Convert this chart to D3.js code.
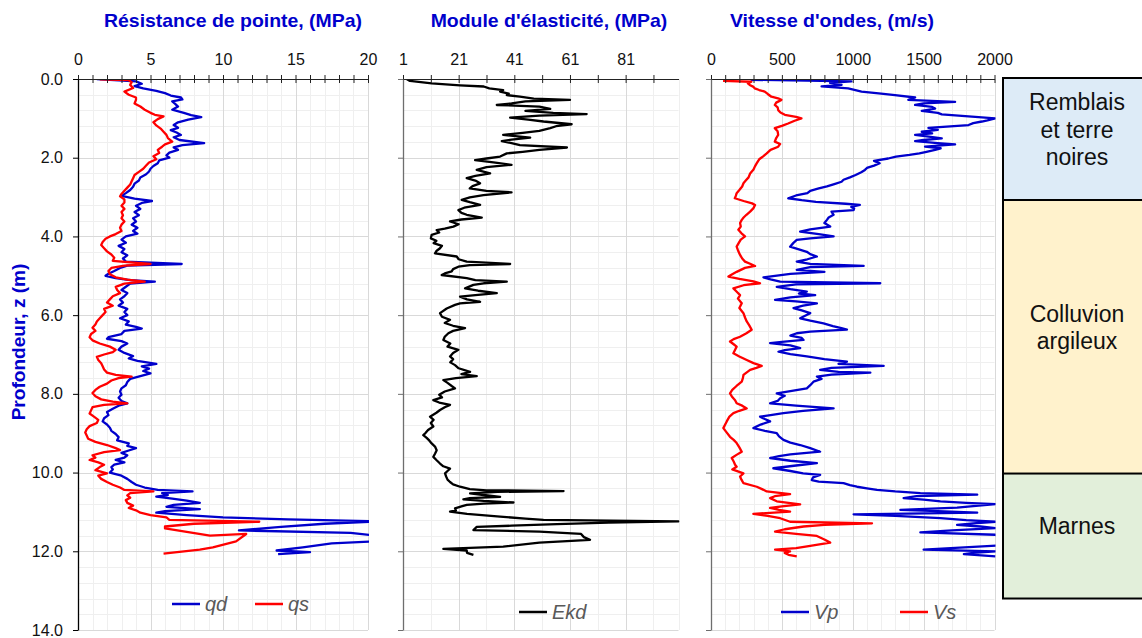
<!DOCTYPE html>
<html>
<head>
<meta charset="utf-8">
<script src="https://cdn.jsdelivr.net/npm/d3@7"></script>
<style>
  body { margin: 0; background: #fff; }
  text { font-family: "Liberation Sans", Arial, sans-serif; }
</style>
</head>
<body>
<svg id="chart" width="1142" height="638"></svg>
<script>
// profondeur (m), valeur
const qd = [[0.00,1.3],[0.03,2.5],[0.06,4.0],[0.12,4.4],[0.18,3.9],[0.24,4.5],[0.30,5.4],[0.36,6.0],[0.42,6.4],[0.47,7.1],[0.52,7.2],[0.57,6.5],[0.63,6.7],[0.70,6.9],[0.78,6.5],[0.86,7.3],[0.92,7.8],[0.97,8.5],[1.03,7.6],[1.10,6.9],[1.17,6.6],[1.24,6.9],[1.30,6.4],[1.36,6.8],[1.42,7.1],[1.48,6.6],[1.55,7.0],[1.63,8.7],[1.68,7.2],[1.74,6.6],[1.80,6.9],[1.87,6.3],[1.94,6.1],[2.00,6.3],[2.07,5.6],[2.14,5.5],[2.21,5.2],[2.28,5.0],[2.35,4.9],[2.42,4.7],[2.50,4.3],[2.58,4.2],[2.66,3.9],[2.74,3.8],[2.82,3.6],[2.90,3.3],[2.97,3.0],[3.04,3.9],[3.10,5.1],[3.15,4.4],[3.22,4.0],[3.30,4.3],[3.38,3.9],[3.46,4.2],[3.54,3.8],[3.62,4.0],[3.70,3.7],[3.78,4.1],[3.86,3.8],[3.93,4.1],[4.00,3.3],[4.08,3.0],[4.16,3.3],[4.24,2.8],[4.32,3.2],[4.40,3.0],[4.48,3.4],[4.56,3.1],[4.64,3.3],[4.70,7.15],[4.74,3.4],[4.80,2.9],[4.88,2.5],[4.95,2.1],[5.00,1.9],[5.06,2.6],[5.11,3.6],[5.15,5.3],[5.20,3.6],[5.28,3.3],[5.36,3.0],[5.44,3.4],[5.52,3.2],[5.60,2.9],[5.68,3.1],[5.76,2.8],[5.84,3.4],[5.92,3.2],[6.00,3.4],[6.08,2.9],[6.16,3.5],[6.24,3.3],[6.30,4.0],[6.34,4.4],[6.40,3.2],[6.48,3.0],[6.56,2.1],[6.60,2.0],[6.66,3.0],[6.72,3.4],[6.80,3.0],[6.88,2.8],[6.96,3.2],[7.04,3.8],[7.10,3.5],[7.16,4.1],[7.24,5.4],[7.30,4.4],[7.36,4.9],[7.42,4.5],[7.48,5.0],[7.55,4.3],[7.62,3.6],[7.70,3.4],[7.78,3.3],[7.86,3.0],[7.94,2.9],[8.02,3.0],[8.10,2.8],[8.18,3.0],[8.24,3.4],[8.30,2.8],[8.38,2.4],[8.46,2.0],[8.54,2.1],[8.62,1.8],[8.70,1.7],[8.78,2.0],[8.86,2.2],[8.94,2.3],[9.02,2.6],[9.10,2.8],[9.18,2.7],[9.26,3.5],[9.32,3.4],[9.38,4.0],[9.44,3.5],[9.50,3.0],[9.56,3.4],[9.62,3.2],[9.68,2.6],[9.74,3.2],[9.80,2.5],[9.86,2.3],[9.92,2.4],[10.00,2.2],[10.08,3.0],[10.16,3.4],[10.24,3.7],[10.31,4.0],[10.38,4.6],[10.44,5.5],[10.48,7.9],[10.52,5.8],[10.57,6.2],[10.61,5.4],[10.66,6.5],[10.71,7.5],[10.77,8.4],[10.82,6.6],[10.87,6.1],[10.93,8.4],[10.98,6.0],[11.02,5.4],[11.08,7.5],[11.14,10.0],[11.19,14.5],[11.24,21.0],[11.30,17.0],[11.38,14.0],[11.47,11.1],[11.53,18.8],[11.62,21],[11.74,21],[11.80,17.5],[11.90,15.5],[11.98,13.7],[12.02,16.0],[12.07,13.8]];

const qs = [[0.01,1.5],[0.03,3.5],[0.08,3.7],[0.15,3.6],[0.23,3.8],[0.32,3.2],[0.40,3.5],[0.47,4.0],[0.53,4.0],[0.62,3.9],[0.70,4.3],[0.78,4.6],[0.86,5.0],[0.91,5.3],[0.95,5.9],[1.02,5.5],[1.10,5.2],[1.18,5.4],[1.26,5.7],[1.34,5.9],[1.42,6.1],[1.50,6.2],[1.59,6.5],[1.66,6.0],[1.72,5.8],[1.80,5.5],[1.88,5.6],[1.96,5.2],[2.04,5.4],[2.12,4.9],[2.20,4.7],[2.28,4.5],[2.36,4.2],[2.44,3.9],[2.52,3.8],[2.60,3.7],[2.68,3.6],[2.76,3.4],[2.84,3.2],[2.92,3.0],[2.98,2.9],[3.06,3.2],[3.14,3.2],[3.22,3.0],[3.30,3.2],[3.38,3.0],[3.46,3.1],[3.54,3.0],[3.62,3.2],[3.70,3.0],[3.78,2.9],[3.86,3.0],[3.94,2.6],[4.00,2.2],[4.06,1.9],[4.14,1.7],[4.22,1.6],[4.30,1.8],[4.38,2.0],[4.46,2.3],[4.54,2.5],[4.62,2.4],[4.70,5.0],[4.74,3.2],[4.80,2.3],[4.88,2.1],[4.96,2.2],[5.04,2.6],[5.10,3.4],[5.15,4.6],[5.20,3.2],[5.28,2.6],[5.36,2.7],[5.44,2.9],[5.52,2.4],[5.60,2.2],[5.68,2.0],[5.76,2.4],[5.84,1.8],[5.92,1.9],[6.00,1.7],[6.08,1.5],[6.16,1.3],[6.24,1.2],[6.32,1.0],[6.40,1.2],[6.48,0.9],[6.56,0.8],[6.64,1.0],[6.72,1.5],[6.80,2.2],[6.88,2.6],[6.94,2.4],[7.00,1.8],[7.06,1.3],[7.14,1.4],[7.22,1.6],[7.30,1.7],[7.38,1.8],[7.46,2.0],[7.52,2.6],[7.56,3.7],[7.60,2.8],[7.66,2.3],[7.74,2.0],[7.82,1.5],[7.90,1.2],[7.98,1.0],[8.06,1.2],[8.14,1.6],[8.20,2.4],[8.24,3.4],[8.28,1.8],[8.34,1.0],[8.42,0.9],[8.50,0.8],[8.58,1.1],[8.66,1.4],[8.74,1.3],[8.82,0.8],[8.90,0.6],[8.98,0.5],[9.06,0.6],[9.14,0.7],[9.22,1.2],[9.30,2.0],[9.38,2.6],[9.43,2.9],[9.48,1.8],[9.56,1.0],[9.62,1.2],[9.68,0.8],[9.74,1.4],[9.80,1.8],[9.86,1.5],[9.94,1.2],[10.02,2.0],[10.08,1.4],[10.16,1.6],[10.24,2.0],[10.31,2.4],[10.38,2.9],[10.44,3.2],[10.48,5.2],[10.52,3.6],[10.58,3.4],[10.64,3.6],[10.70,3.3],[10.77,3.4],[10.84,3.8],[10.90,3.5],[10.96,4.0],[11.02,4.3],[11.08,5.0],[11.14,6.1],[11.20,6.3],[11.25,12.5],[11.30,8.0],[11.37,6.0],[11.42,6.0],[11.60,9.1],[11.56,11.6],[11.75,10.9],[11.90,9.3],[11.96,8.4],[12.06,5.9]];

const ekd = [[0.00,2.3],[0.05,3.5],[0.11,11.3],[0.16,21.5],[0.19,30],[0.24,32],[0.28,37],[0.32,35.9],[0.37,39],[0.41,38.3],[0.45,43],[0.50,48],[0.53,61],[0.57,45],[0.62,40],[0.66,34.7],[0.70,50],[0.76,53.9],[0.81,45],[0.86,55],[0.89,67],[0.93,50],[0.98,39.5],[1.03,46],[1.08,51.5],[1.15,61.6],[1.20,56],[1.25,53.9],[1.32,50],[1.37,44],[1.42,37],[1.49,46.7],[1.54,40],[1.58,36.5],[1.63,40],[1.68,43],[1.74,59.9],[1.80,50],[1.85,44],[1.89,38.3],[1.97,35.9],[2.02,31],[2.06,26.9],[2.12,33.5],[2.18,40],[2.24,31],[2.31,27.5],[2.40,32.3],[2.46,27],[2.52,23.9],[2.58,27],[2.65,28.7],[2.72,26],[2.78,25],[2.84,31],[2.88,40],[2.95,29.9],[3.01,25],[3.07,22.1],[3.13,25],[3.20,28.7],[3.27,23],[3.33,20.9],[3.40,22],[3.45,23.9],[3.52,29.3],[3.57,22],[3.62,17.9],[3.69,21],[3.75,19.1],[3.80,16],[3.84,13.1],[3.90,14],[3.96,11.3],[4.05,11],[4.11,13],[4.17,12],[4.24,15],[4.30,14.3],[4.37,13],[4.43,12.5],[4.51,20.3],[4.58,21],[4.64,23.9],[4.70,39.5],[4.73,25],[4.77,20.9],[4.83,19],[4.89,18.5],[4.94,16],[4.98,14.9],[5.06,23.9],[5.11,27],[5.15,38.3],[5.19,30],[5.23,26.3],[5.32,23.3],[5.38,28],[5.44,34.7],[5.49,27],[5.53,21.5],[5.60,24],[5.66,28.7],[5.70,21.5],[5.74,19.7],[5.83,16.7],[5.95,14.3],[6.04,15],[6.12,17.9],[6.20,16],[6.27,19],[6.33,23.3],[6.40,19],[6.46,17.3],[6.55,16],[6.63,15.5],[6.72,18],[6.80,17],[6.88,20.9],[6.96,19],[7.05,17.9],[7.12,19],[7.20,18],[7.27,19.7],[7.35,21],[7.44,25.1],[7.50,22],[7.55,27.5],[7.60,20],[7.65,15.5],[7.72,17],[7.80,18.5],[7.86,19.7],[7.94,16],[8.02,14],[8.09,15],[8.16,11.9],[8.22,14],[8.28,17.9],[8.34,16],[8.41,14.3],[8.48,13],[8.58,10.7],[8.66,12],[8.74,11],[8.83,11.9],[8.92,10],[9.00,9],[9.05,8.3],[9.12,9.5],[9.19,10.5],[9.26,11.3],[9.34,12.5],[9.43,13.1],[9.52,12.5],[9.60,11.9],[9.68,13],[9.77,14.3],[9.84,15.5],[9.90,17.9],[9.96,17],[10.02,16.1],[10.10,16.5],[10.18,17],[10.24,17.9],[10.30,19],[10.36,21.5],[10.42,25],[10.45,31],[10.47,58.7],[10.49,35],[10.53,25.1],[10.57,30],[10.62,35.9],[10.65,25],[10.68,22.7],[10.72,30],[10.76,40.7],[10.79,30],[10.82,23.9],[10.86,22],[10.91,19.7],[10.96,20],[10.99,17.9],[11.05,24],[11.12,35.9],[11.17,45],[11.20,51.5],[11.24,100],[11.27,75],[11.31,56.3],[11.35,40],[11.38,27.5],[11.46,26.3],[11.50,50],[11.56,65],[11.64,66],[11.71,68.2],[11.78,50],[11.88,37],[11.94,15.5],[11.98,23.9],[12.04,24],[12.09,26.3]];

const vp = [[0.02,280],[0.06,990],[0.10,840],[0.15,921],[0.19,780],[0.24,968],[0.32,1062],[0.37,1200],[0.41,1298],[0.47,1440],[0.53,1392],[0.58,1722],[0.62,1500],[0.66,1440],[0.71,1560],[0.75,1581],[0.81,1487],[0.86,1600],[0.90,1628],[0.96,1864],[1.00,2005],[1.05,1950],[1.08,1911],[1.12,1850],[1.17,1817],[1.24,1534],[1.29,1600],[1.34,1487],[1.38,1560],[1.42,1440],[1.47,1550],[1.51,1628],[1.55,1500],[1.58,1440],[1.63,1600],[1.66,1722],[1.72,1510],[1.76,1620],[1.80,1581],[1.85,1520],[1.89,1470],[1.93,1400],[1.97,1305],[2.02,1250],[2.08,1150],[2.14,1190],[2.20,1150],[2.26,1100],[2.31,1086],[2.37,1060],[2.44,1020],[2.50,980],[2.56,935],[2.61,921],[2.67,870],[2.73,818],[2.78,760],[2.84,700],[2.90,680],[2.96,600],[3.03,545],[3.08,640],[3.12,740],[3.17,950],[3.20,1050],[3.25,990],[3.29,1010],[3.33,1006],[3.37,850],[3.45,865],[3.52,830],[3.58,818],[3.66,800],[3.75,841],[3.82,700],[3.88,629],[3.94,760],[4.00,865],[4.05,700],[4.09,605],[4.17,580],[4.26,558],[4.33,620],[4.39,676],[4.45,700],[4.51,747],[4.58,680],[4.64,605],[4.70,700],[4.75,1077],[4.78,700],[4.85,605],[4.90,800],[4.95,560],[5.04,370],[5.09,420],[5.15,488],[5.19,1194],[5.22,600],[5.28,464],[5.34,560],[5.40,676],[5.45,620],[5.49,735],[5.55,560],[5.61,452],[5.65,600],[5.70,747],[5.76,650],[5.82,582],[5.88,640],[5.95,700],[6.02,660],[6.08,629],[6.14,700],[6.21,794],[6.28,860],[6.33,920],[6.37,959],[6.42,700],[6.46,605],[6.52,560],[6.58,640],[6.63,653],[6.68,500],[6.71,417],[6.77,560],[6.84,629],[6.89,520],[6.93,476],[6.99,560],[7.05,676],[7.12,800],[7.18,959],[7.24,900],[7.29,1218],[7.34,850],[7.39,770],[7.44,900],[7.46,1124],[7.51,850],[7.56,747],[7.62,780],[7.69,723],[7.78,700],[7.86,676],[7.93,560],[7.99,464],[8.05,520],[8.11,488],[8.18,470],[8.24,417],[8.30,600],[8.37,865],[8.43,650],[8.49,511],[8.54,420],[8.58,346],[8.64,380],[8.70,417],[8.78,350],[8.87,299],[8.94,380],[9.00,464],[9.08,480],[9.17,511],[9.24,560],[9.30,629],[9.38,700],[9.47,770],[9.54,560],[9.58,480],[9.63,417],[9.70,560],[9.76,747],[9.82,600],[9.89,440],[9.96,560],[10.02,650],[10.06,770],[10.12,720],[10.19,711],[10.23,760],[10.27,935],[10.32,980],[10.36,1030],[10.40,1100],[10.44,1171],[10.48,1300],[10.52,1477],[10.56,1878],[10.60,1450],[10.65,1359],[10.69,1500],[10.73,1619],[10.77,1800],[10.80,2007],[10.85,1850],[10.89,1736],[10.95,1336],[10.98,1600],[11.02,1878],[11.06,1006],[11.10,1300],[11.16,1619],[11.21,1800],[11.25,2007],[11.29,1850],[11.33,1736],[11.37,1900],[11.41,2007],[11.47,1700],[11.52,1477],[11.58,2007],[11.70,2050],[11.85,2050],[11.96,1500],[12.00,2007],[12.04,1850],[12.07,1784],[12.13,2007]];

const vs = [[0.05,85],[0.07,285],[0.11,260],[0.15,273],[0.20,300],[0.24,309],[0.28,340],[0.32,379],[0.38,400],[0.45,426],[0.50,480],[0.53,497],[0.60,460],[0.66,450],[0.72,470],[0.79,474],[0.85,490],[0.91,521],[0.96,600],[1.00,638],[1.06,590],[1.13,544],[1.19,500],[1.25,450],[1.33,470],[1.42,474],[1.50,460],[1.59,450],[1.65,488],[1.72,474],[1.80,420],[1.89,393],[1.96,370],[2.04,340],[2.14,323],[2.22,310],[2.30,300],[2.40,276],[2.50,265],[2.58,245],[2.65,229],[2.73,220],[2.82,200],[2.90,181],[2.97,175],[3.03,168],[3.10,230],[3.16,290],[3.20,311],[3.28,300],[3.37,276],[3.45,250],[3.52,230],[3.58,217],[3.66,205],[3.75,210],[3.83,193],[3.92,215],[4.00,240],[4.08,210],[4.17,195],[4.26,181],[4.35,190],[4.47,205],[4.56,220],[4.64,240],[4.70,280],[4.75,311],[4.80,240],[4.90,181],[4.96,150],[5.02,123],[5.08,200],[5.14,300],[5.19,346],[5.24,230],[5.32,158],[5.40,180],[5.49,205],[5.58,190],[5.70,217],[5.82,200],[5.95,229],[6.06,240],[6.16,252],[6.26,270],[6.37,287],[6.46,250],[6.55,205],[6.61,160],[6.67,134],[6.74,160],[6.80,181],[6.88,170],[6.97,158],[7.05,200],[7.14,252],[7.22,300],[7.29,358],[7.34,320],[7.39,276],[7.46,250],[7.52,229],[7.60,225],[7.69,217],[7.80,180],[7.90,150],[7.99,134],[8.08,150],[8.16,170],[8.24,181],[8.30,220],[8.37,252],[8.43,200],[8.49,158],[8.58,130],[8.70,111],[8.78,100],[8.87,87],[8.98,110],[9.09,134],[9.17,160],[9.25,181],[9.36,200],[9.47,217],[9.55,180],[9.63,146],[9.72,160],[9.80,170],[9.85,181],[9.92,150],[10.02,229],[10.10,205],[10.18,215],[10.27,229],[10.36,323],[10.42,360],[10.48,393],[10.55,558],[10.60,450],[10.65,417],[10.73,464],[10.81,629],[10.86,500],[10.90,417],[10.95,480],[10.99,558],[11.05,299],[11.10,400],[11.16,488],[11.25,558],[11.29,1136],[11.33,800],[11.37,653],[11.44,520],[11.50,452],[11.56,600],[11.61,747],[11.70,800],[11.78,841],[11.86,700],[11.92,600],[11.96,452],[12.00,558],[12.04,520],[12.09,547],[12.13,605]];

// couches de sol
const layerNames = [["Remblais", "et terre", "noires"], ["Colluvion", "argileux"], ["Marnes"]];
const layerTop = [0, 3.1, 10.05];
const layerBottom = [3.1, 10.05, 13.2];

// graduations
const depthLabels = [0, 2, 4, 6, 8, 10, 12, 14];
const qLabels = [0, 5, 10, 15, 20];
const eLabels = [1, 21, 41, 61, 81];
const vLabels = [0, 500, 1000, 1500, 2000];

const BLUE = "#0000CC", RED = "#FF0000";

const svg = d3.select("#chart");
const y = d3.scaleLinear().domain([0, 14]).range([79, 630]);

const panels = [
  {
    x: d3.scaleLinear().domain([0, 20]).range([78, 368]),
    ticks: d3.range(0, 20.01, 1), labels: qLabels,
    major: [5, 10, 15, 20], minor: d3.range(1, 20, 1),
    title: "Résistance de pointe, (MPa)", titleX: 233,
    axisColor: "#000", yText: true,
    series: [{data: qd, color: BLUE, name: "qd", lx: 172}, {data: qs, color: RED, name: "qs", lx: 255}],
    legendY: 604
  },
  {
    x: d3.scaleLinear().domain([1, 100]).range([403, 678.5]),
    ticks: d3.range(1, 100, 10), labels: eLabels,
    major: [21, 41, 61, 81], minor: [11, 31, 51, 71, 91, 100],
    title: "Module d'élasticité, (MPa)", titleX: 549,
    axisColor: "#6e6e6e", yText: false,
    series: [{data: ekd, color: "#000", name: "Ekd", lx: 519}],
    legendY: 612
  },
  {
    x: d3.scaleLinear().domain([0, 2000]).range([711, 994.5]),
    ticks: d3.range(0, 2001, 100), labels: vLabels,
    major: [500, 1000, 1500, 2000], minor: d3.range(100, 2000, 100),
    title: "Vitesse d'ondes, (m/s)", titleX: 832,
    axisColor: "#6e6e6e", yText: false,
    series: [{data: vp, color: BLUE, name: "Vp", lx: 781}, {data: vs, color: RED, name: "Vs", lx: 900}],
    legendY: 612
  }
];

const defs = svg.append("defs");

panels.forEach(function (p, i) {
  const x = p.x;
  const [x0, x1] = x.range();
  const g = svg.append("g");

  // grille
  const minorY = d3.range(0.4, 14.01, 0.4).filter(d => Math.abs(d / 2 - Math.round(d / 2)) > 0.01);
  g.selectAll(".hmin").data(minorY).enter().append("line")
    .attr("x1", x0).attr("x2", x1)
    .attr("y1", d => Math.round(y(d)) + 0.5).attr("y2", d => Math.round(y(d)) + 0.5)
    .attr("stroke", "#efefef");
  g.selectAll(".vmin").data(p.minor).enter().append("line")
    .attr("x1", d => Math.round(x(d)) + 0.5).attr("x2", d => Math.round(x(d)) + 0.5)
    .attr("y1", y(0)).attr("y2", y(14))
    .attr("stroke", "#efefef");
  g.selectAll(".hmaj").data(depthLabels.slice(1)).enter().append("line")
    .attr("x1", x0).attr("x2", x1)
    .attr("y1", d => Math.round(y(d)) + 0.5).attr("y2", d => Math.round(y(d)) + 0.5)
    .attr("stroke", "#d9d9d9");
  g.selectAll(".vmaj").data(p.major).enter().append("line")
    .attr("x1", d => Math.round(x(d)) + 0.5).attr("x2", d => Math.round(x(d)) + 0.5)
    .attr("y1", y(0)).attr("y2", y(14))
    .attr("stroke", "#d9d9d9");

  // courbes
  defs.append("clipPath").attr("id", "clip" + i).append("rect")
    .attr("x", x0).attr("y", y(0)).attr("width", x1 - x0 + 1).attr("height", y(14) - y(0));

  const line = d3.line().x(d => x(d[1])).y(d => y(d[0]));
  p.series.forEach(function (s) {
    g.append("path").datum(s.data)
      .attr("clip-path", "url(#clip" + i + ")")
      .attr("d", line)
      .attr("fill", "none")
      .attr("stroke", s.color)
      .attr("stroke-width", 2.3)
      .attr("stroke-linejoin", "round");
  });

  // axe du haut
  const top = g.append("g").attr("transform", "translate(0," + y(0) + ")")
    .call(d3.axisTop(x).tickValues(p.ticks).tickSize(4).tickSizeOuter(0)
      .tickFormat(d => p.labels.includes(d) ? d : ""));
  top.select(".domain").attr("stroke", "#222");
  top.selectAll(".tick line").attr("y1", 4).attr("y2", -4).attr("stroke", "#222");
  top.selectAll(".tick text").attr("y", -14).attr("dy", 0)
    .attr("font-size", 16).attr("fill", "#111")
    .style("font-family", "'Liberation Sans', Arial, sans-serif");

  // axe de gauche
  const left = g.append("g").attr("transform", "translate(" + x0 + ",0)")
    .call(d3.axisLeft(y).tickValues(depthLabels).tickSize(5).tickSizeOuter(0)
      .tickFormat(d => p.yText ? d3.format(".1f")(d) : ""));
  left.select(".domain").attr("stroke", p.axisColor).attr("stroke-width", 1.3);
  left.selectAll(".tick line").attr("stroke", p.axisColor);
  left.selectAll(".tick text").attr("x", -15)
    .attr("font-size", 16).attr("fill", "#111")
    .style("font-family", "'Liberation Sans', Arial, sans-serif");

  // titre
  svg.append("text")
    .attr("transform", "translate(" + p.titleX + ",27) scale(1.08,1)")
    .attr("text-anchor", "middle")
    .attr("font-size", 18).attr("font-weight", "bold")
    .attr("fill", BLUE)
    .text(p.title);

  // légende
  p.series.forEach(function (s) {
    g.append("line")
      .attr("x1", s.lx).attr("x2", s.lx + 28)
      .attr("y1", p.legendY).attr("y2", p.legendY)
      .attr("stroke", s.color).attr("stroke-width", 2.5);
    g.append("text")
      .attr("x", s.lx + 33).attr("y", p.legendY + 7)
      .attr("font-size", 20).attr("font-style", "italic")
      .attr("fill", "#595959")
      .text(s.name);
  });
});

// titre de l'axe des profondeurs
svg.append("text")
  .attr("transform", "translate(25,342) rotate(-90) scale(1.06,1)")
  .attr("text-anchor", "middle")
  .attr("font-size", 18).attr("font-weight", "bold")
  .attr("fill", BLUE)
  .text("Profondeur, z (m)");

// colonne des couches
const layerColors = ["#DDEBF7", "#FFF2CC", "#E2EFDA"];
const col = svg.append("g");
layerNames.forEach(function (names, i) {
  const y0 = y(layerTop[i]) - 1, y1 = y(layerBottom[i]);
  col.append("rect")
    .attr("x", 1003).attr("y", y0)
    .attr("width", 160).attr("height", y1 - y0)
    .attr("fill", layerColors[i])
    .attr("stroke", "#000").attr("stroke-width", 2);
  const mid = (y0 + y1) / 2 - 12;
  const lh = 27.5;
  names.forEach(function (t, k) {
    col.append("text")
      .attr("x", 1077)
      .attr("y", mid + (k - (names.length - 1) / 2) * lh + 10)
      .attr("text-anchor", "middle")
      .attr("font-size", 23).attr("fill", "#111")
      .text(t);
  });
});
</script>
</body>
</html>
